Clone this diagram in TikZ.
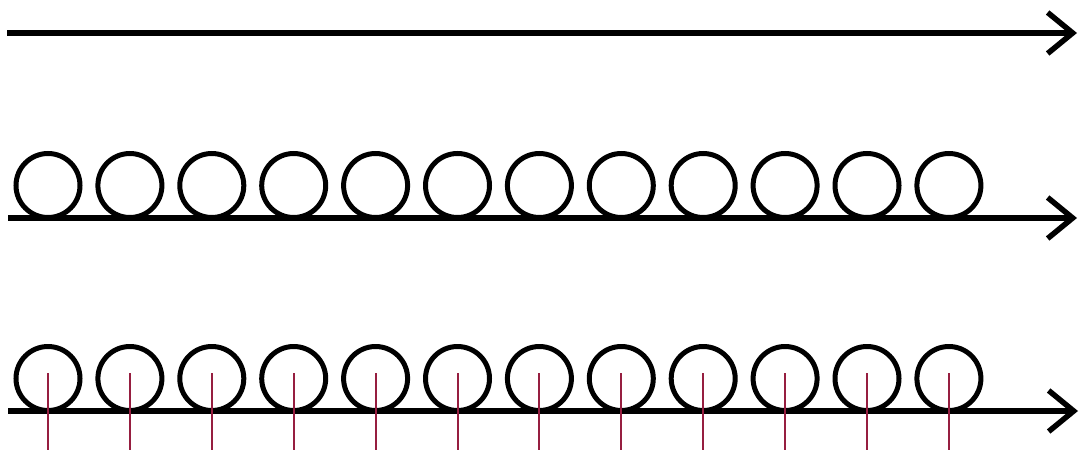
\documentclass[tikz,border=0pt]{standalone}
\usepackage{xcolor}
\usepackage{tikz}
\usetikzlibrary{arrows.meta}
\definecolor{tickred}{RGB}{150,30,64}
\tikzset{axis/.style={line width=5.5pt, -{Straight Barb[length=25pt,width=41pt,line width=5.5pt]}},
 ball/.style={line width=5pt},
 tick/.style={tickred,line width=2pt}}

\begin{document}
\begin{tikzpicture}[x=1pt,y=-1pt]
\useasboundingbox (0,0) rectangle (1082,455);
% three lines
\coordinate (s1) at (7,33);   \coordinate (e1) at (1077,33);
\coordinate (s2) at (8,218);  \coordinate (e2) at (1077,218);
\coordinate (s3) at (8,411);  \coordinate (e3) at (1078,411);
\draw[axis] (s1) -- (e1);
\draw[axis] (s2) -- (e2);
\draw[axis] (s3) -- (e3);
% balls on the lines
\foreach \i in {0,...,11} {
 \draw[ball] (48+81.9*\i,185.5) circle (32);
 \draw[ball] (48+81.9*\i,378.5) circle (32);
 \draw[tick] (48+81.9*\i,373) --++(0,77);
}
\end{tikzpicture}
\end{document}
